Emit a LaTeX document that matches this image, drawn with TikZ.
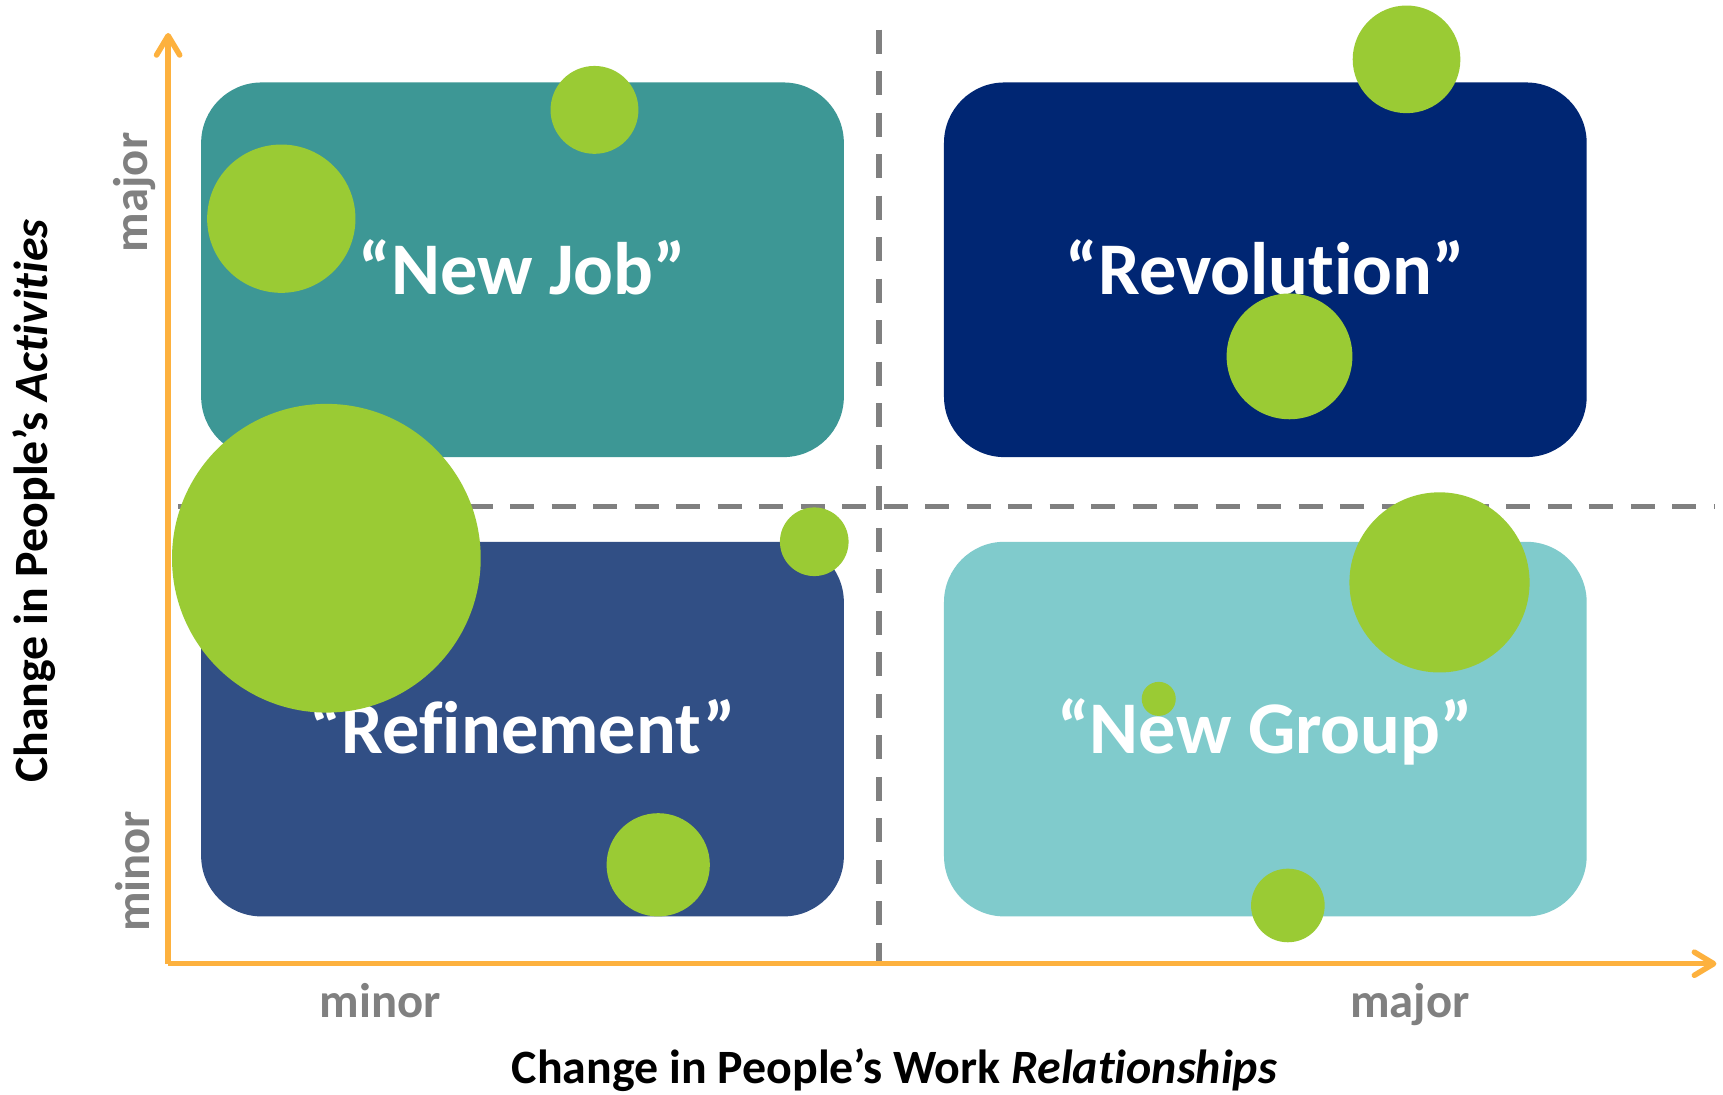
\documentclass[tikz,border=0pt]{standalone}
\usepackage{fontspec}
\setmainfont{Carlito}[RawFeature={-liga;-clig;-dlig;-calt}]
\usetikzlibrary{arrows.meta,calc}
\definecolor{cJob}{RGB}{61,151,149}
\definecolor{cRev}{RGB}{0,38,115}
\definecolor{cRef}{RGB}{49,79,133}
\definecolor{cGrp}{RGB}{128,203,204}
\definecolor{cGreen}{RGB}{154,203,52}
\definecolor{cGray}{RGB}{128,128,128}
\definecolor{cOrange}{RGB}{253,177,62}
\begin{document}
\begin{tikzpicture}[x=0.02cm,y=-0.02cm,
  quad/.style={rectangle, rounded corners=1.1cm, minimum width=11.7cm, minimum height=6.82cm, inner sep=0},
  blob/.style={circle, fill=cGreen, inner sep=0, draw=none},
  quadlbl/.style={text=white, font=\bfseries\fontsize{38.5}{44}\selectfont, anchor=base, inner sep=0},
  ticklbl/.style={text=cGray, font=\bfseries\fontsize{25.2}{30}\selectfont, anchor=base, inner sep=0},
  titlelbl/.style={text=black, font=\bfseries\fontsize{24.8}{30}\selectfont, anchor=base, inner sep=0},
  axisline/.style={draw=cOrange, line width=2.85pt, -{Straight Barb[length=10pt,width=12pt,line cap=round,line join=round]}},
  divider/.style={draw=cGray, line width=2.85pt, dash pattern=on 12.5pt off 9pt}]
\fill[white] (0,0) rectangle (1568,995.6);
\useasboundingbox (0,0) rectangle (1568,995.6);
% quadrants
\node[quad, fill=cJob] (nj) at (475.5,245.5) {};
\node[quad, fill=cRev] (rv) at (1151.5,245.5) {};
\node[quad, fill=cRef] (rf) at (475.5,663.5) {};
\node[quad, fill=cGrp] (ng) at (1151.5,663.5) {};
\node[quadlbl] (tnj) at ([yshift=-0.45cm]nj.center) {“New Job”};
\node[quadlbl] (trv) at ([yshift=-0.45cm]rv.center) {“Revolution”};
\node[quadlbl] (trf) at ([yshift=-0.45cm]rf.center) {“Refinement”};
\node[quadlbl] (tng) at ([yshift=-0.45cm]ng.center) {“New Group”};
% dividers
\coordinate (vt) at (800,27);
\coordinate (vb) at (800,875);
\coordinate (hl) at (162,461);
\coordinate (hr) at (1560,461);
\draw[divider] (vt) -- (vb);
\draw[divider] (hl) -- (hr);
% circles
\node[blob, minimum size=1.6cm] (c1) at (541,100) {};
\node[blob, minimum size=2.7cm] (c2) at (256,199) {};
\node[blob, minimum size=5.62cm] (c3) at (297,508) {};
\node[blob, minimum size=1.25cm] (c4) at (741,493) {};
\node[blob, minimum size=1.88cm] (c5) at (599,787) {};
\node[blob, minimum size=1.96cm] (c6) at (1280,54) {};
\node[blob, minimum size=2.29cm] (c7) at (1173.5,324.3) {};
\node[blob, minimum size=3.28cm] (c8) at (1310,530) {};
\node[blob, minimum size=0.62cm] (c9) at (1054.5,636) {};
\node[blob, minimum size=1.34cm] (c10) at (1172,824) {};
% axes
\coordinate (o) at (153,877);
\coordinate (ytop) at (153,30);
\coordinate (xend) at (1562,877);
\draw[axisline] (o) -- (ytop);
\draw[axisline] (o) -- (xend);
% axis labels
\node[ticklbl, rotate=90] (ymaj) at (134,175) {major};
\node[ticklbl, rotate=90] (ymin) at (136,793) {minor};
\node[ticklbl] (xmin) at (346,926) {minor};
\node[ticklbl] (xmaj) at (1283,926) {major};
\node[titlelbl, rotate=90] (ytitle) at (43,456) {Change in People’s \textit{Activities}};
\node[titlelbl] (xtitle) at (814,986) {Change in People’s Work \textit{Relationships}};
\end{tikzpicture}
\end{document}
